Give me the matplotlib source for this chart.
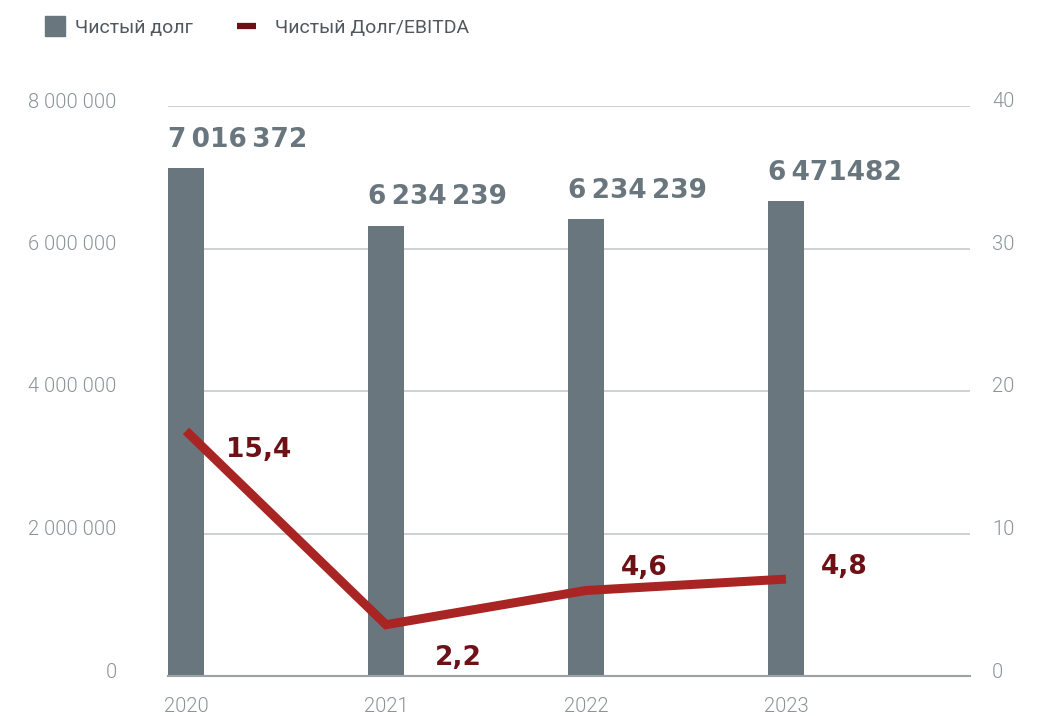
import matplotlib
matplotlib.use('Agg')
import matplotlib.pyplot as plt
import matplotlib.transforms as mtransforms
from matplotlib.lines import Line2D
from matplotlib.ticker import FuncFormatter

plt.rcParams['font.family'] = ['Roboto', 'DejaVu Sans']
plt.rcParams['font.weight'] = 300

# data
years = ['2020', '2021', '2022', '2023']
net_debt = [7130000, 6320000, 6410000, 6660000]
net_debt_labels = ['7\u2009016\u2009372', '6\u2009234\u2009239', '6\u2009234\u2009239', '6\u2009471482']
debt_ebitda = [17.2, 3.6, 6.0, 6.8]
ratio_labels = ['15,4', '2,2', '4,6', '4,8']

bar_color = '#6a767e'
line_color = '#a82523'
label_red = '#6e1116'
tick_color = '#8a9398'
grid_color = '#c5c9cc'
value_font = 'DejaVu Sans'

fig = plt.figure(figsize=(10.46, 7.16), dpi=100)
ax = fig.add_axes([168/1046, 1 - 676/716, (970-168)/1046, (676-106)/716])
ax2 = ax.twinx()

x = list(range(len(years)))
ax.bar(x, net_debt, width=0.18, color=bar_color, zorder=2)
ax.set_xlim(-0.09, 3.92)
ax.set_ylim(0, 8000000)
ax.set_yticks(range(0, 8000001, 2000000))
ax.yaxis.set_major_formatter(FuncFormatter(lambda v, p: f'{v:,.0f}'.replace(',', ' ')))
ax.grid(axis='y', color=grid_color, lw=1.2, zorder=0)
ax.set_axisbelow(True)
ax.set_xticks(x)
ax.set_xticklabels(years)

ax2.plot(x, debt_ebitda, color=line_color, lw=6.5, solid_capstyle='butt',
         solid_joinstyle='miter', zorder=3)
ax2.set_ylim(0, 40)
ax2.set_yticks(range(0, 41, 10))

for a in (ax, ax2):
    for s in a.spines.values():
        s.set_visible(False)
    a.tick_params(length=0, colors=tick_color, labelsize=14.5)
ax.spines['bottom'].set_visible(True)
ax.spines['bottom'].set_color('#9aa2a7')
ax.spines['bottom'].set_linewidth(1.5)
ax.tick_params(axis='y', pad=37)
ax.tick_params(axis='x', pad=15)
ax2.tick_params(axis='y', pad=16)

# y labels sit a bit above their grid lines
shift = mtransforms.ScaledTranslation(0, 6/100, fig.dpi_scale_trans)
for lab in ax.get_yticklabels() + ax2.get_yticklabels():
    lab.set_transform(lab.get_transform() + shift)

# bar value labels, aligned to bar left edge
for xi, v, t in zip(x, net_debt, net_debt_labels):
    ax.annotate(t, (xi - 0.09, v), xytext=(0, 11), textcoords='offset points',
                ha='left', va='bottom', fontsize=19, fontweight='bold',
                color=bar_color, family=value_font, zorder=4)

# ratio labels
label_offsets = [(52, -14), (52, -24), (42, 16), (42, 9)]
for xi, v, t, off in zip(x, debt_ebitda, ratio_labels, label_offsets):
    ax2.annotate(t, (xi, v), xytext=off, textcoords='offset points',
                 ha='center', va='center', fontsize=19, fontweight='bold',
                 color=label_red, family=value_font)

# legend, two entries placed separately
leg_kw = dict(loc='center left', frameon=False, handlelength=1.0,
              labelcolor='#50585d', prop={'size': 14, 'weight': 'normal'})
fig.legend([Line2D([], [], marker='s', ls='none', color=bar_color, markersize=14.5)],
           ['Чистый долг'], bbox_to_anchor=(0.0268, 0.961),
           handletextpad=0.5, **leg_kw)
fig.legend([Line2D([], [], color=label_red, lw=4.5, solid_capstyle='butt')],
           ['Чистый Долг/EBITDA'], bbox_to_anchor=(0.2095, 0.961),
           handletextpad=0.95, **leg_kw)

fig.savefig('out.png', dpi=100)
